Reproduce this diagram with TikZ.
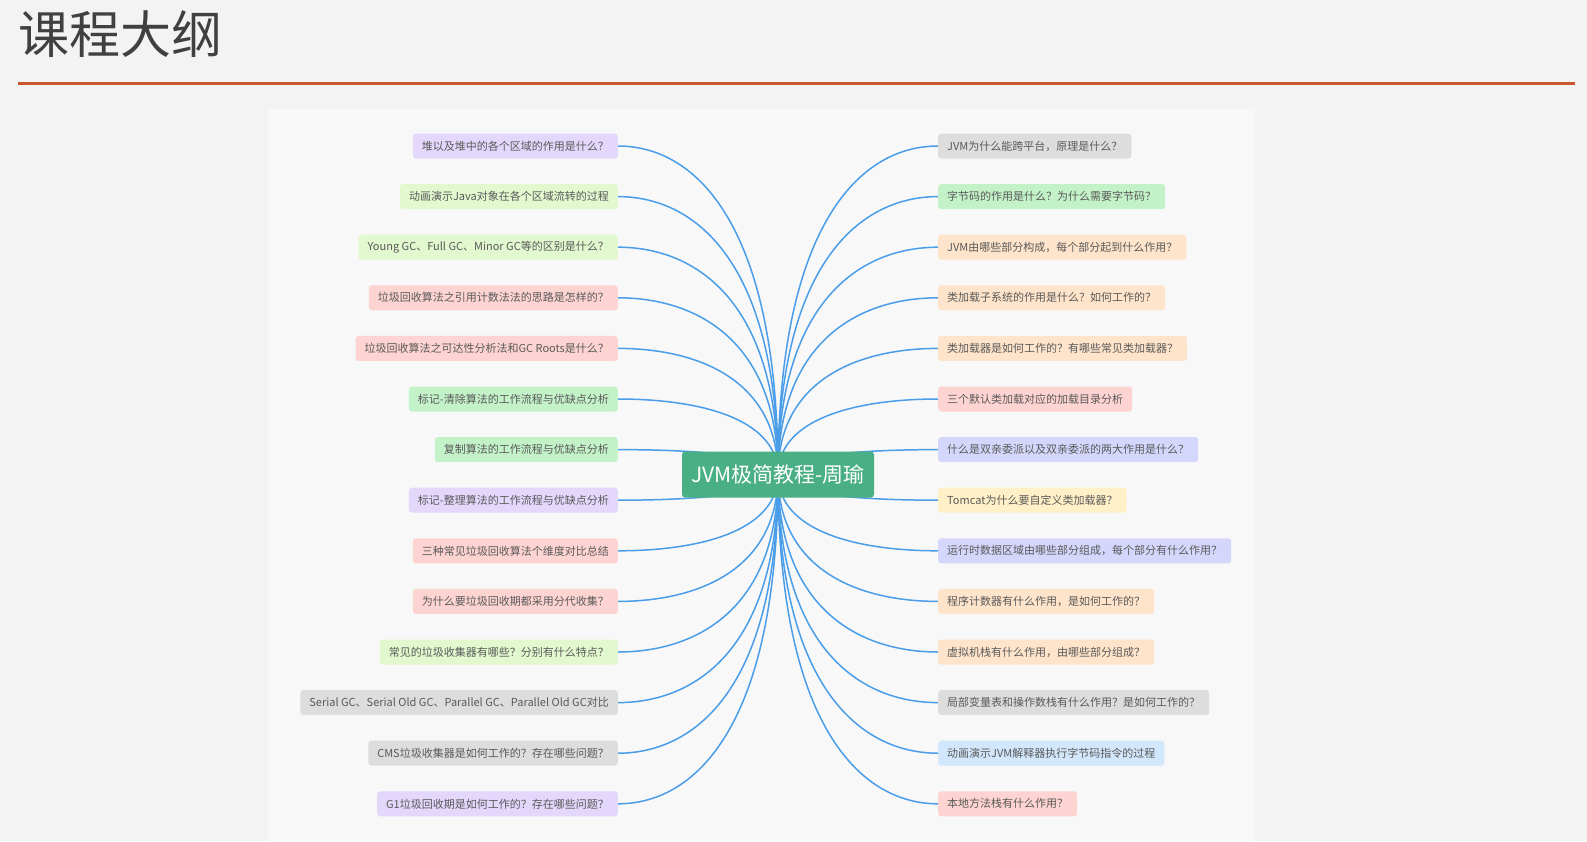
\documentclass[tikz,border=0pt]{standalone}
\usepackage{fontspec}
\setmainfont{Noto Sans CJK SC}
\usepackage{tikz}
\usetikzlibrary{positioning, calc, backgrounds}
\definecolor{slideGrey}{HTML}{F3F3F3}
\definecolor{panelGrey}{HTML}{F8F8F8}
\definecolor{titleGrey}{HTML}{404040}
\definecolor{ruleRed}{HTML}{C9562C}
\definecolor{hubGreen}{HTML}{4BAF85}
\definecolor{lineBlue}{HTML}{4A9DE8}
\definecolor{leafText}{HTML}{5A5A5A}
\definecolor{cViolet}{HTML}{E4D7FC}
\definecolor{cLime}{HTML}{E2F8CF}
\definecolor{cPink}{HTML}{FDD4D1}
\definecolor{cGreen}{HTML}{C3F1C8}
\definecolor{cGrey}{HTML}{DDDDDD}
\definecolor{cPeach}{HTML}{FEE4CA}
\definecolor{cBlue}{HTML}{D5D6FB}
\definecolor{cYellow}{HTML}{FFF0C8}
\definecolor{cSky}{HTML}{D3E7FC}

\begin{document}
\begin{tikzpicture}[x=1pt, y=-1pt,
  leaf/.style={rounded corners=3pt, minimum height=25pt, inner xsep=9pt, inner ysep=0pt,
               text=leafText, font=\fontsize{11}{13}\selectfont},
  hub/.style={fill=hubGreen, rounded corners=3pt, minimum width=192pt, minimum height=46pt,
              text=white, font=\fontsize{21}{23}\selectfont},
  link/.style={lineBlue, line width=1.5pt}]
  \useasboundingbox (0,0) rectangle (1587,841);
  \node[anchor=west, inner sep=0pt, text=titleGrey, font=\fontsize{51}{55}\selectfont] (title) at (18,34) {课程大纲};
  \node[hub] (hub) at (778,474.5) {JVM极简教程-周瑜};
  % left branch
  \foreach \txt/\col [count=\c from 0] in {
      堆以及堆中的各个区域的作用是什么？/cViolet,
      动画演示Java对象在各个区域流转的过程/cLime,
      Young GC、Full GC、Minor GC等的区别是什么？/cLime,
      垃圾回收算法之引用计数法法的思路是怎样的？/cPink,
      垃圾回收算法之可达性分析法和GC Roots是什么？/cPink,
      标记-清除算法的工作流程与优缺点分析/cGreen,
      复制算法的工作流程与优缺点分析/cGreen,
      标记-整理算法的工作流程与优缺点分析/cViolet,
      三种常见垃圾回收算法个维度对比总结/cPink,
      为什么要垃圾回收期都采用分代收集？/cPink,
      常见的垃圾收集器有哪些？分别有什么特点？/cLime,
      Serial GC、Serial Old GC、Parallel GC、Parallel Old GC对比/cGrey,
      CMS垃圾收集器是如何工作的？存在哪些问题？/cGrey,
      G1垃圾回收期是如何工作的？存在哪些问题？/cViolet}{
    \node[leaf, fill=\col, anchor=east] (l\c) at (618,{146+50.6*\c}) {\txt};}
  % right branch
  \foreach \txt/\col [count=\c from 0] in {
      JVM为什么能跨平台，原理是什么？/cGrey,
      字节码的作用是什么？为什么需要字节码？/cGreen,
      JVM由哪些部分构成，每个部分起到什么作用？/cPeach,
      类加载子系统的作用是什么？如何工作的？/cPeach,
      类加载器是如何工作的？有哪些常见类加载器？/cPeach,
      三个默认类加载对应的加载目录分析/cPink,
      什么是双亲委派以及双亲委派的两大作用是什么？/cBlue,
      Tomcat为什么要自定义类加载器？/cYellow,
      运行时数据区域由哪些部分组成，每个部分有什么作用？/cBlue,
      程序计数器有什么作用，是如何工作的？/cPeach,
      虚拟机栈有什么作用，由哪些部分组成？/cPeach,
      局部变量表和操作数栈有什么作用？是如何工作的？/cGrey,
      动画演示JVM解释器执行字节码指令的过程/cSky,
      本地方法栈有什么作用？/cPink}{
    \node[leaf, fill=\col, anchor=west] (r\c) at (938,{146+50.6*\c}) {\txt};}
  \begin{scope}[on background layer]
    \fill[slideGrey] (0,0) rectangle (1587,841);
    \fill[panelGrey] (268,109) rectangle (1255,841);
    \draw[ruleRed, line width=3pt] (18,83) -- (1575,83);
    % curved links from the hub to every leaf
    \foreach \c in {0,...,13}{
      \draw[link] (hub.center) .. controls ($(hub.center)!0.75!(hub.center|-l\c.east)$)
        and ($(hub.center|-l\c.east)!0.5!(l\c.east)$) .. (l\c.east);
      \draw[link] (hub.center) .. controls ($(hub.center)!0.75!(hub.center|-r\c.west)$)
        and ($(hub.center|-r\c.west)!0.5!(r\c.west)$) .. (r\c.west);}
  \end{scope}
\end{tikzpicture}
\end{document}
